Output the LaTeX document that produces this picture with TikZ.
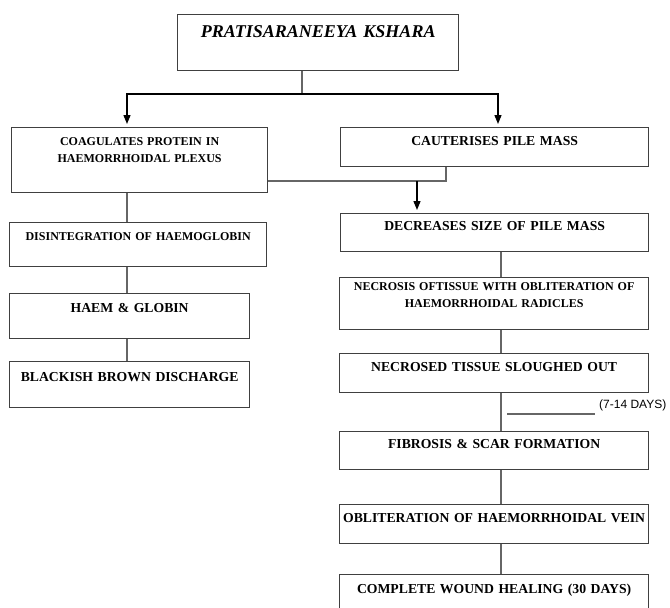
\documentclass[tikz,border=0pt]{standalone}
\usepackage{fontspec}
\setmainfont{Liberation Serif}
\newfontfamily\arialfont{Liberation Sans}
\usepackage{xcolor}
\usepackage{tikz}
\usetikzlibrary{arrows.meta}
\usetikzlibrary{positioning}
\usetikzlibrary{calc}
\colorlet{boxcol}{black!75}
\colorlet{linkcol}{black!60}
\tikzset{
	stage/.style={draw=boxcol, line width=1.3pt, inner xsep=0pt, inner ysep=0pt, anchor=north west, align=center, font=\fontsize{13.7}{17}\selectfont\bfseries},
	small/.style={font=\fontsize{12}{17}\selectfont\bfseries},
	link/.style={draw=linkcol, line width=1.3pt},
	flow/.style={draw=black, line width=1.3pt, -{Triangle[length=9pt,width=7pt]}, shorten >=3pt}
}

\begin{document}
\begin{tikzpicture}[x=1pt, y=-1pt]
			\useasboundingbox (0,0) rectangle (670,608);
			%coordinates
			\coordinate (topsplit) at (302,94);
			\coordinate (lspine)   at (127,0);
			\coordinate (rspine)   at (501,0);
			\coordinate (rdrop)    at (498,0);
			\coordinate (mergept)  at (446,181);
			\coordinate (dropx)    at (417,181);
			\coordinate (daysl)    at (507,414);
			\coordinate (daysr)    at (595,414);
			
			%nodes
			\node[stage, text width=281pt, text height=23pt, text depth=33pt, font=\fontsize{18}{20}\selectfont\bfseries\itshape] (title) at (177,14) {PRATISARANEEYA KSHARA};
			
			\node[stage, small, text width=256pt, text height=18pt, text depth=47pt] (coag) at (11,127) {COAGULATES PROTEIN IN\\HAEMORRHOIDAL PLEXUS};
			\node[stage, small, text width=257pt, text height=18pt, text depth=26pt] (disint) at (9,222) {DISINTEGRATION OF HAEMOGLOBIN};
			\node[stage, text width=240pt, text height=19pt, text depth=26pt] (haem) at (9,293) {HAEM \& GLOBIN};
			\node[stage, text width=240pt, text height=20pt, text depth=26pt] (black) at (9,361) {BLACKISH BROWN DISCHARGE};
			
			\node[stage, text width=308pt, text height=18pt, text depth=21pt] (caut) at (340,127) {CAUTERISES PILE MASS};
			\node[stage, text width=308pt, text height=17pt, text depth=21pt] (decr) at (340,213) {DECREASES SIZE OF PILE MASS};
			\node[stage, small, text width=309pt, text height=13pt, text depth=39pt] (necro) at (339,277) {NECROSIS OFTISSUE WITH OBLITERATION OF\\HAEMORRHOIDAL RADICLES};
			\node[stage, text width=309pt, text height=18pt, text depth=21pt] (slough) at (339,353) {NECROSED TISSUE SLOUGHED OUT};
			\node[stage, text width=309pt, text height=17pt, text depth=21pt] (fibro) at (339,431) {FIBROSIS \& SCAR FORMATION};
			\node[stage, text width=309pt, text height=18pt, text depth=21pt] (oblit) at (339,504) {OBLITERATION OF HAEMORRHOIDAL VEIN};
			\node[stage, text width=309pt, text height=19pt, text depth=30pt] (heal) at (339,574) {COMPLETE WOUND HEALING (30 DAYS)};
			
			\node[anchor=base west, inner sep=0pt, font=\arialfont\fontsize{12}{14}\selectfont] (days) at (599,408) {(7-14 DAYS)};
			
			%connectors
			\draw[link] (title.south -| topsplit) -- (topsplit);
			\draw[flow] (topsplit) -| (coag.north -| lspine);
			\draw[flow] (topsplit) -| (caut.north -| rdrop);
			
			\draw[link] (coag.east |- mergept) -- (mergept) -- (caut.south -| mergept);
			\draw[flow] (dropx) -- (decr.north -| dropx);
			
			\foreach \a/\b in {coag/disint, disint/haem, haem/black}
				\draw[link] (\a.south -| lspine) -- (\b.north -| lspine);
			\foreach \a/\b in {decr/necro, necro/slough, slough/fibro, fibro/oblit, oblit/heal}
				\draw[link] (\a.south -| rspine) -- (\b.north -| rspine);
			
			\draw[link] (daysl) -- (daysr);
\end{tikzpicture}
\end{document}
